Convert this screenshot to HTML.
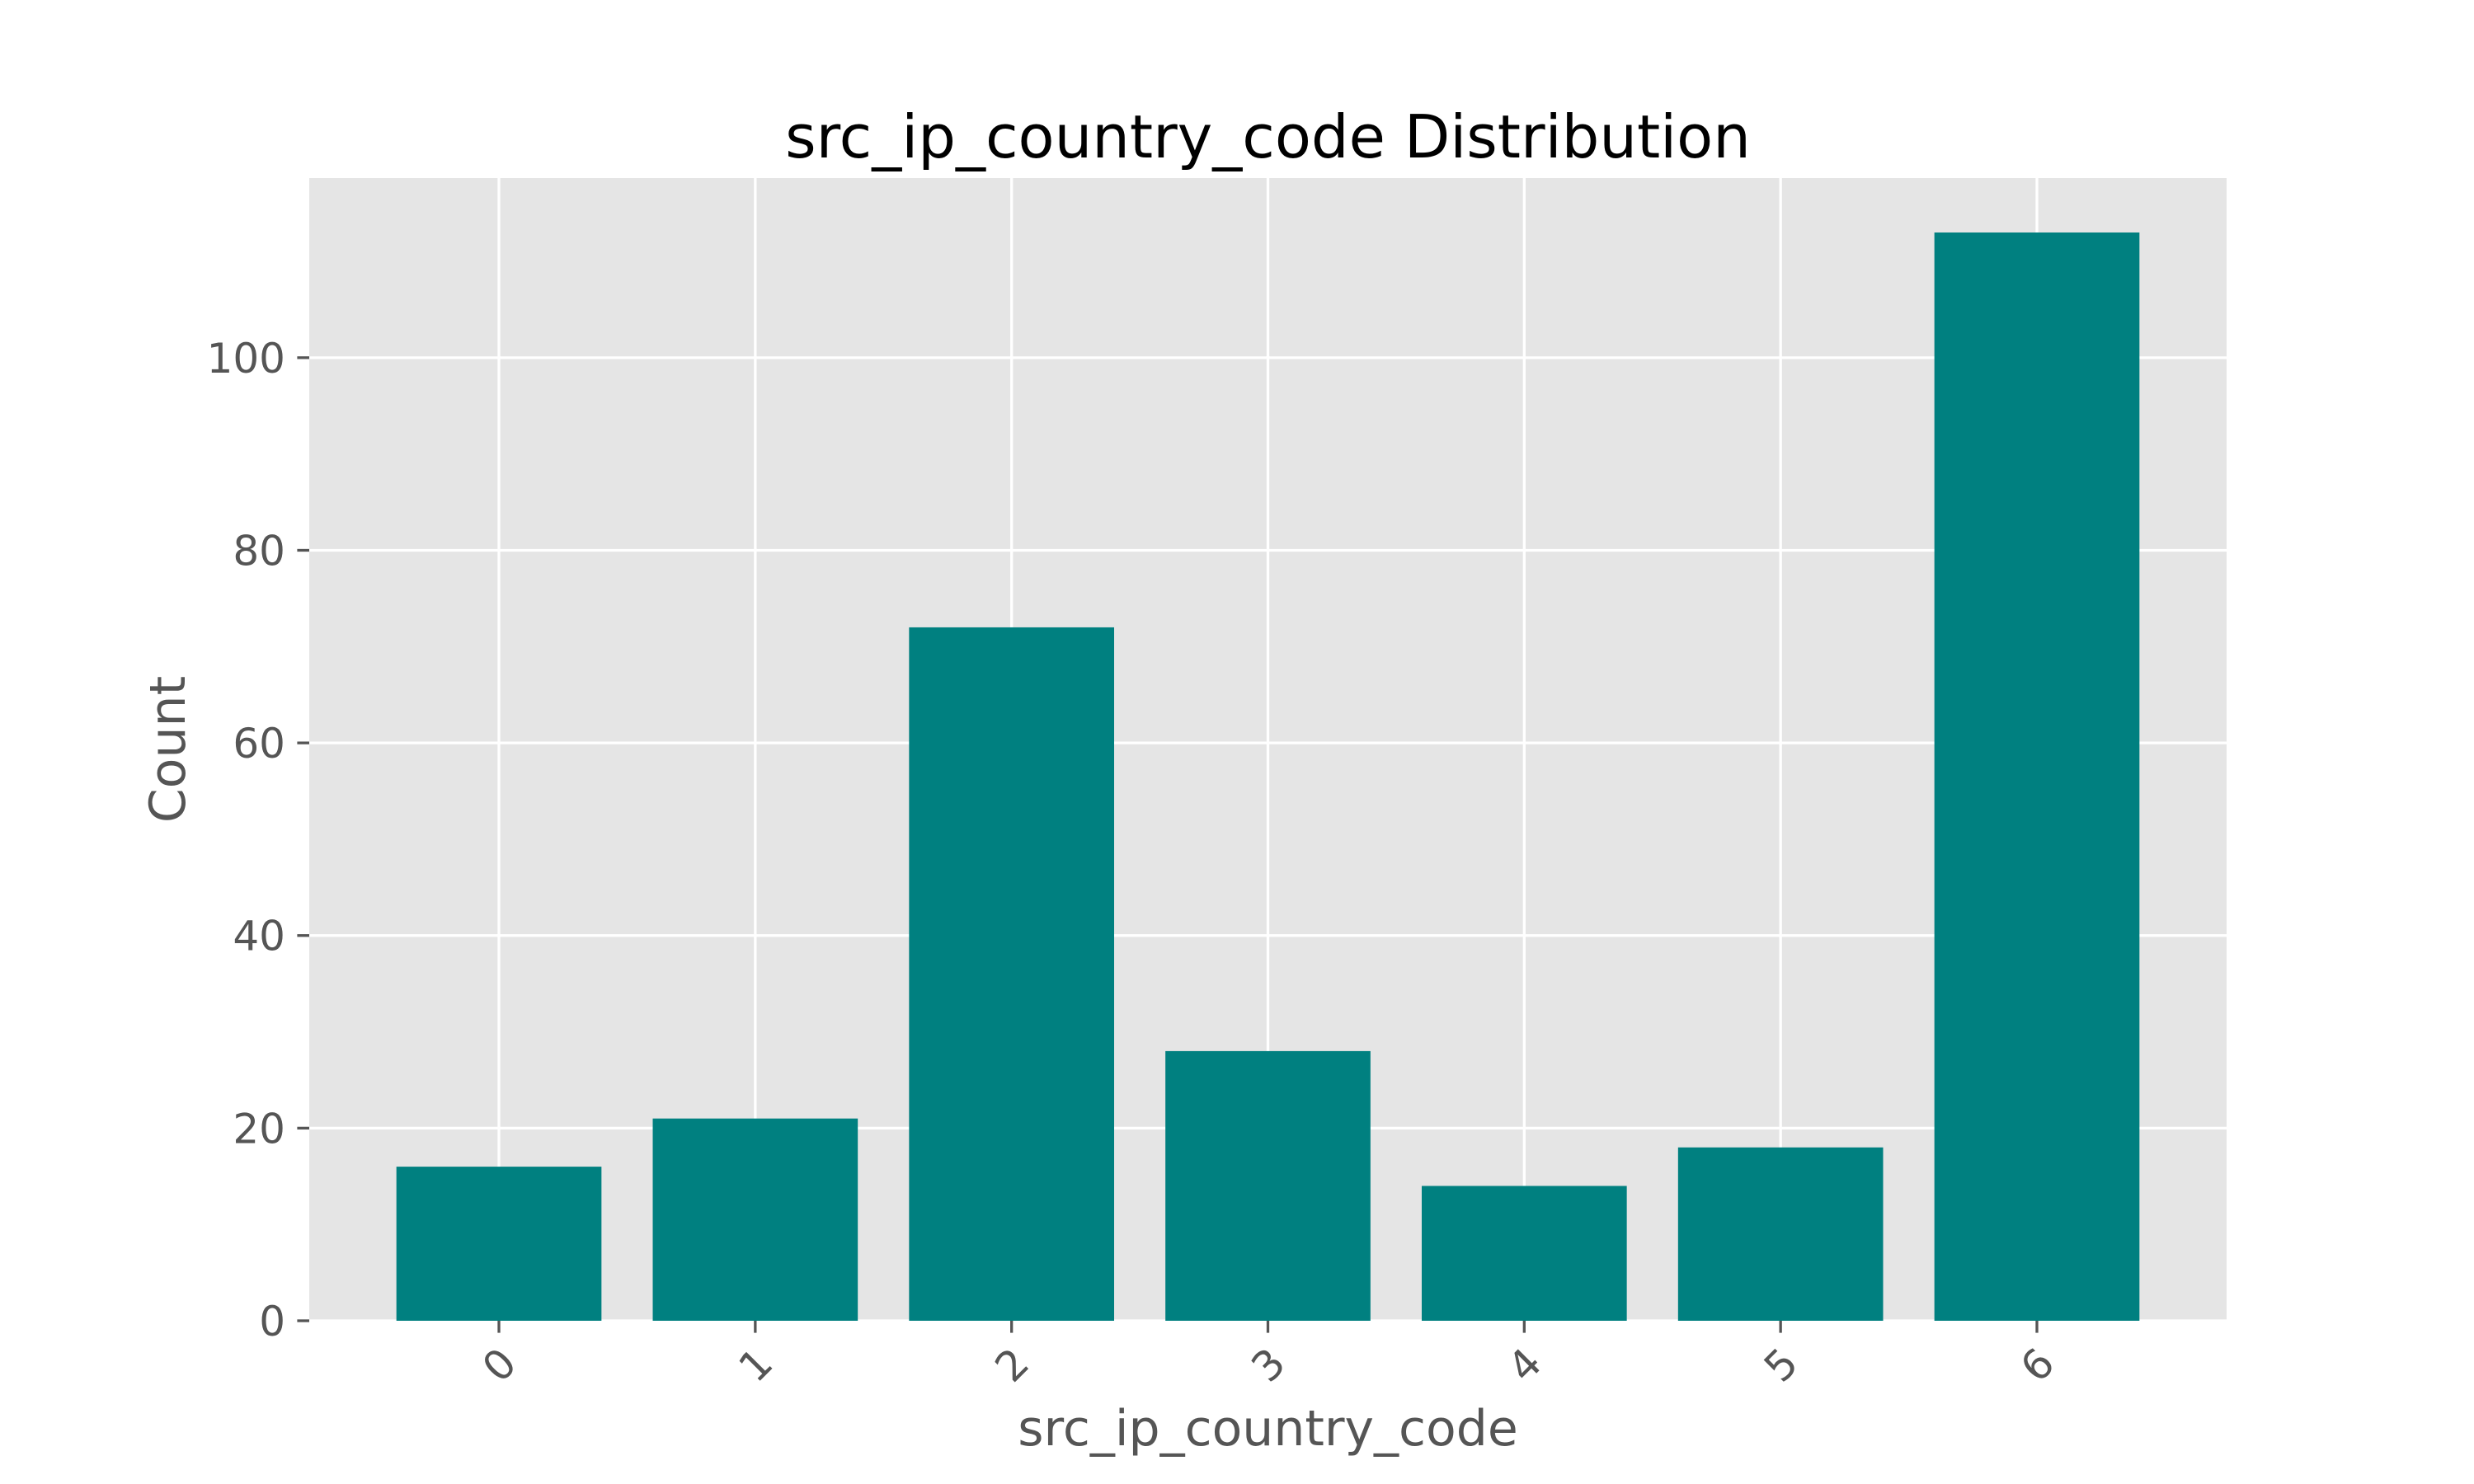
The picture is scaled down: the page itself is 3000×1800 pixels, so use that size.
<!DOCTYPE html>
<html><head><meta charset="utf-8"><style>
html,body{margin:0;padding:0;background:#fff;}
svg{display:block;font-family:"DejaVu Sans","Liberation Sans",sans-serif;}
</style></head><body>
<svg id="chart" width="3000" height="1800" viewBox="0 0 3000 1800">
<rect x="375" y="216" width="2325" height="1386" fill="#e5e5e5"/>
<g id="grid"></g><g id="bars"></g><g id="axes"></g>
<text x="1537.5" y="191" text-anchor="middle" font-size="72" fill="#000">src_ip_country_code Distribution</text>
<text x="1537.5" y="1753" text-anchor="middle" font-size="60" fill="#555">src_ip_country_code</text>
<text x="0" y="0" transform="translate(224,909) rotate(-90)" text-anchor="middle" font-size="60" fill="#555">Count</text>
</svg>
<script>
const categories = ["0","1","2","3","4","5","6"];
const counts = [16, 21, 72, 28, 14, 18, 113];
const yTicks = [0, 20, 40, 60, 80, 100];
const L=375,R=2700,T=216,B=1602;
const ns="http://www.w3.org/2000/svg";
const ymax=Math.max(...counts)*1.05;
const n=categories.length, bw=0.8;
const xmin=-bw/2-0.05*(n-1+bw), xmax=n-1+bw/2+0.05*(n-1+bw);
const xs=v=>L+(v-xmin)/(xmax-xmin)*(R-L);
const ys=v=>B-v/ymax*(B-T);
function mk(tag,attrs,parent){const e=document.createElementNS(ns,tag);for(const k in attrs)e.setAttribute(k,attrs[k]);document.getElementById(parent).appendChild(e);return e;}
yTicks.forEach(t=>{
  const g=mk('line',{x1:L,x2:R,y1:ys(t),y2:ys(t),stroke:'#fff','stroke-width':3.3},'grid');
  
  
  const tk=mk('line',{x1:L-14.6,x2:L,y1:ys(t),y2:ys(t),stroke:'#555','stroke-width':3.3},'axes');
  
  
  const tx=mk('text',{x:L-29,y:ys(t)+18,'text-anchor':'end','font-size':50,fill:'#555'},'axes');
  tx.textContent=t;
  
  
});
categories.forEach((c,i)=>{
  const g=mk('line',{x1:xs(i),x2:xs(i),y1:T,y2:B,stroke:'#fff','stroke-width':3.3},'grid');
  
  
  const b=mk('rect',{x:xs(i-bw/2),y:ys(counts[i]),width:xs(i+bw/2)-xs(i-bw/2),height:B-ys(counts[i]),fill:'#008080'},'bars');
  
  
  const tk=mk('line',{x1:xs(i),x2:xs(i),y1:B,y2:B+14.6,stroke:'#555','stroke-width':3.3},'axes');
  
  
  const cy=B+14.6+14.6+24;
  const tx=mk('text',{x:xs(i),y:cy+18,'text-anchor':'middle','font-size':50,fill:'#555',transform:`rotate(-45 ${xs(i)} ${cy})`},'axes');
  tx.textContent=c;
  
  
});
</script>
</body></html>
